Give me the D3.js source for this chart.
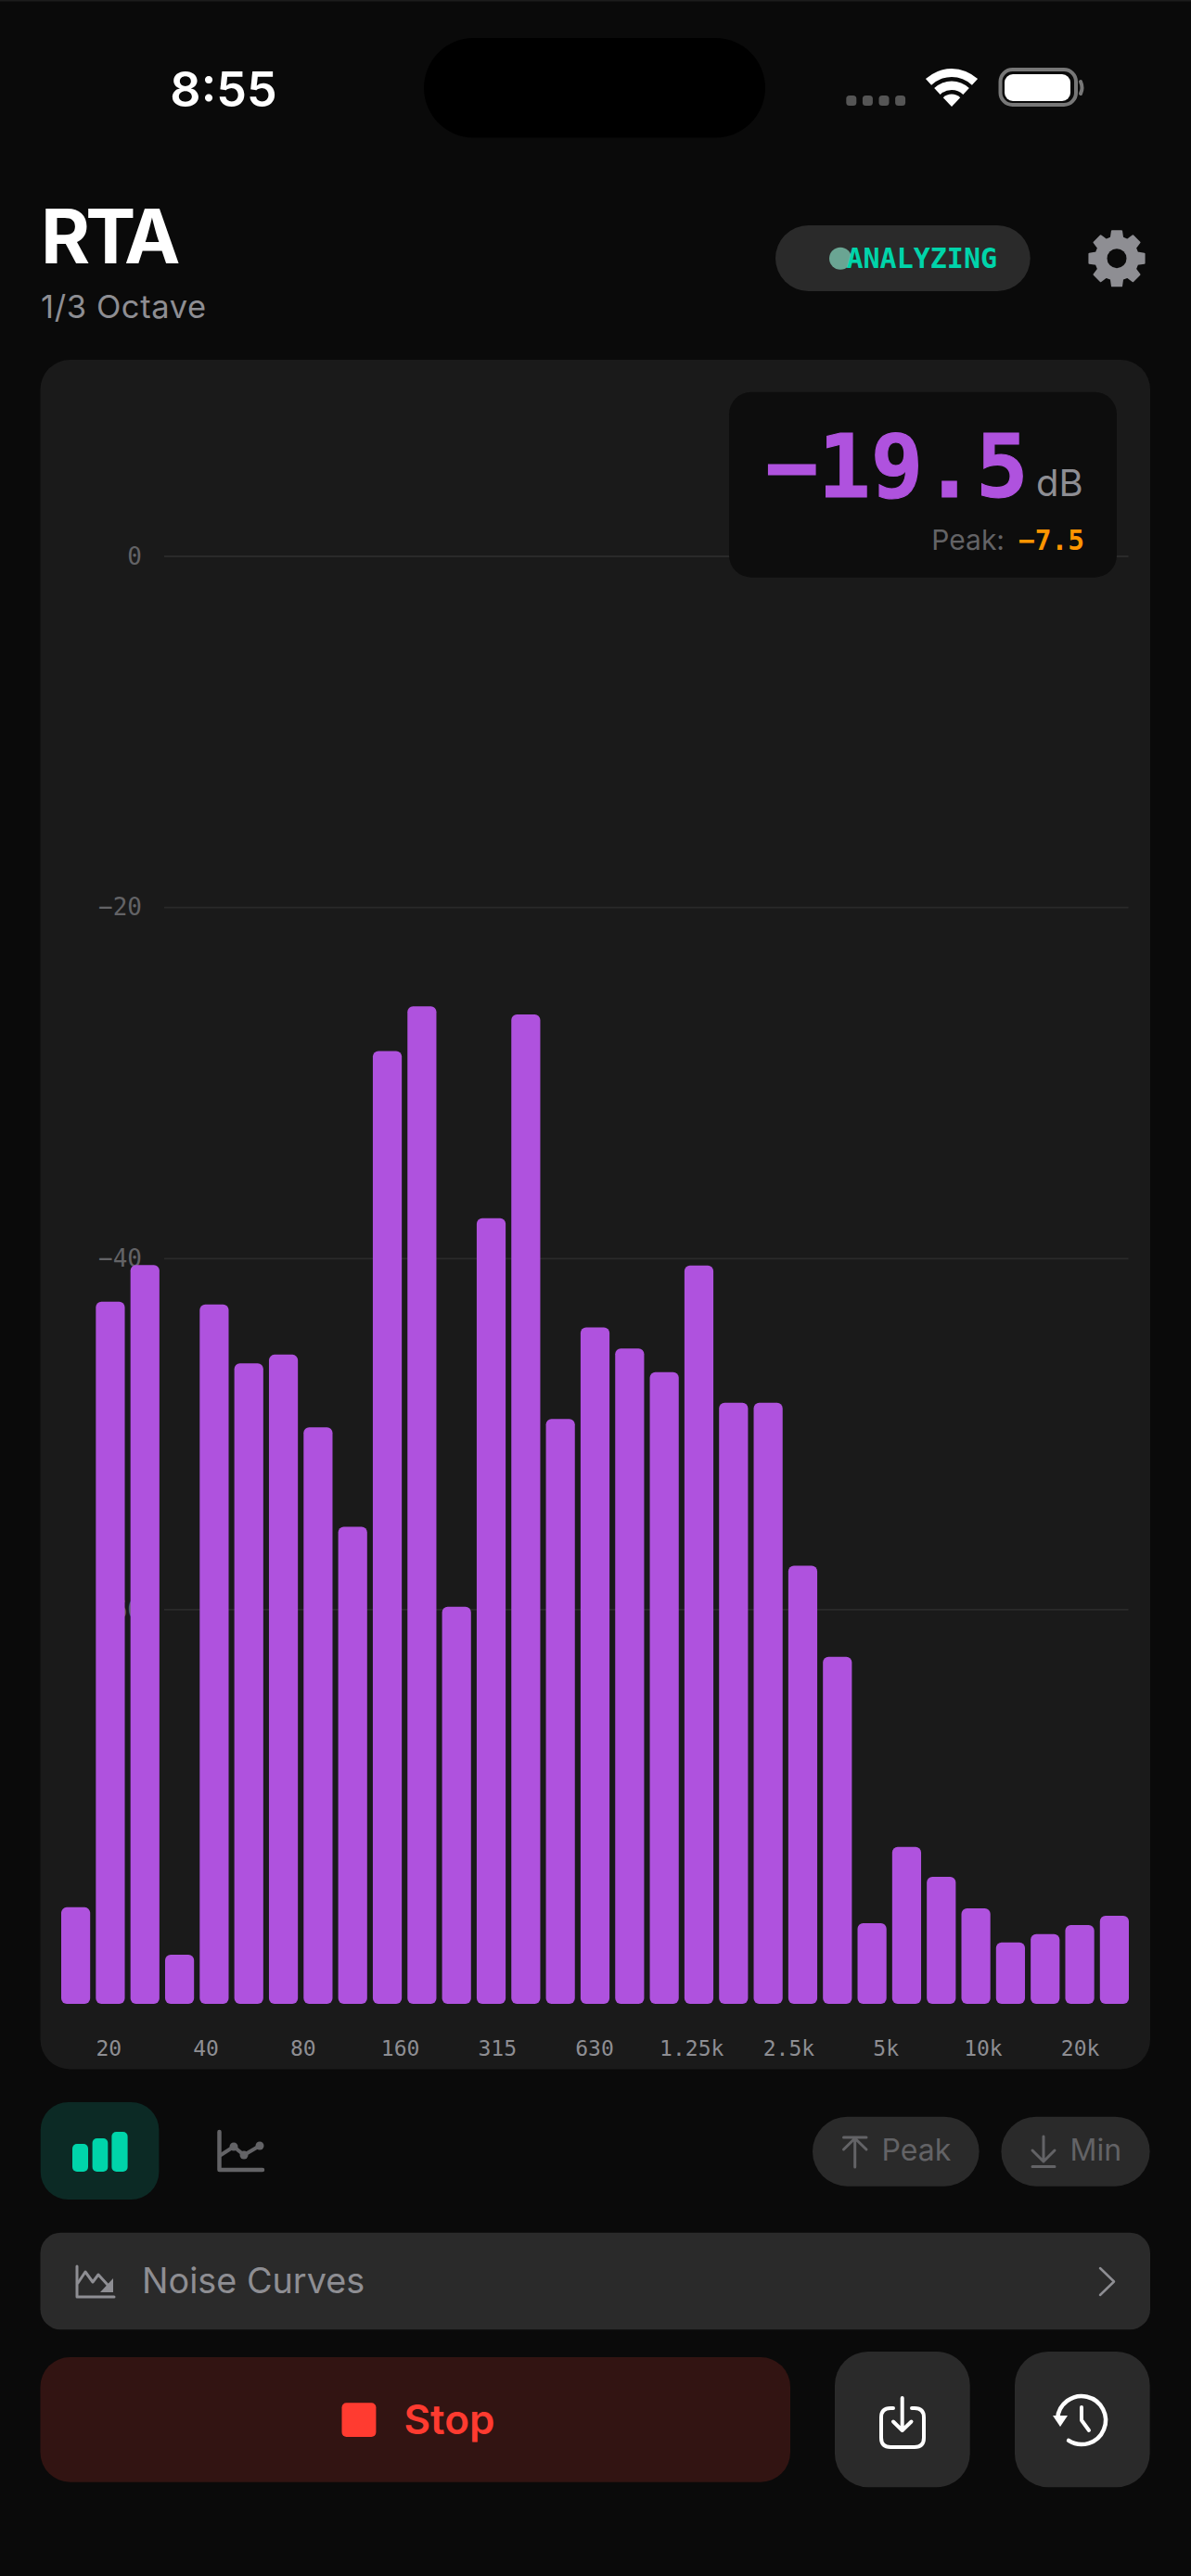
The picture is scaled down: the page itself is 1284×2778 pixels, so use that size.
<!DOCTYPE html>
<html>
<head>
<meta charset="utf-8">
<title>RTA</title>
<script src="https://d3js.org/d3.v7.min.js"></script>
<style>
  html, body { margin: 0; padding: 0; background: #0a0a0a; }
  svg { display: block; }
  text { font-family: Inter, "Noto Sans", sans-serif; }
  .mono, .mono text { font-family: "DejaVu Sans Mono", monospace; }
</style>
</head>
<body>
<svg id="screen" width="1284" height="2778"></svg>
<script>
// 1/3 octave bands and the level, in dB
var bandNames = ["20", "25", "31.5", "40", "50", "63", "80", "100", "125", "160", "200",
  "250", "315", "400", "500", "630", "800", "1k", "1.25k", "1.6k", "2k",
  "2.5k", "3.15k", "4k", "5k", "6.3k", "8k", "10k", "12.5k", "16k", "20k"];
var bandLevels = [-76.95, -42.45, -40.37, -79.65, -42.61, -45.97, -45.47, -49.61, -55.28, -28.18, -25.63,
  -59.83, -37.70, -26.09, -49.14, -43.92, -45.12, -46.47, -40.39, -48.21, -48.21,
  -57.49, -62.68, -77.85, -73.51, -75.21, -77.01, -78.95, -78.47, -77.96, -77.43];
var freqLabels = ["20", "40", "80", "160", "315", "630", "1.25k", "2.5k", "5k", "10k", "20k"];
var dbTicks = [0, -20, -40, -60];
var dbFloor = -82.45;

var GREY = "#8e8e93", DIM = "#636366", CHIP = "#2a2a2a", TEAL = "#00d4aa", PURPLE = "#af52de", RED = "#ff3b30";

var svg = d3.select("#screen");

function box(parent, x0, y0, x1, y1, r, fill) {
  return parent.append("rect").attr("x", x0).attr("y", y0)
    .attr("width", x1 - x0).attr("height", y1 - y0)
    .attr("rx", r).attr("ry", r).attr("fill", fill);
}

function label(parent, x, y, str, size, weight, fill, anchor) {
  return parent.append("text").attr("x", x).attr("y", y).text(str)
    .attr("font-size", size).attr("font-weight", weight).attr("fill", fill)
    .attr("text-anchor", anchor || "start");
}

function stroked(parent, d, color, width) {
  return parent.append("path").attr("d", d).attr("fill", "none")
    .attr("stroke", color).attr("stroke-width", width)
    .attr("stroke-linecap", "round").attr("stroke-linejoin", "round");
}

/* status bar */
box(svg, 0, 0, 1284, 1.5, 0, "#1c1c1c");
label(svg, 241, 115, "8:55", 52, 600, "#fff", "middle");
box(svg, 457, 41, 825, 148.5, 53.7, "#000");
[0, 1, 2, 3].forEach(function (i) {
  box(svg, 912.3 + i * 17.6, 103, 923.3 + i * 17.6, 114, 3.5, "#555");
});
var wifi = svg.append("g").attr("transform", "translate(1026,115)");
[[32, 41], [18, 27.5], [0, 13.5]].forEach(function (r) {
  wifi.append("path").attr("fill", "#fff").attr("d", d3.arc()
    .innerRadius(r[0]).outerRadius(r[1])
    .startAngle(-Math.PI * 0.24).endAngle(Math.PI * 0.24)());
});
box(svg, 1078.5, 75, 1160, 113, 13, "none").attr("stroke", "#777").attr("stroke-width", 4);
box(svg, 1083, 80, 1154, 109, 9, "#fff");
stroked(svg, "M1165,88 Q1168,95 1165,101", "#777", 4);

/* header */
label(svg, 44, 284, "RTA", 81, 700, "#fff").attr("letter-spacing", -5);
label(svg, 44, 343, "1/3 Octave", 34.5, 400, GREY).attr("letter-spacing", 0.6);
box(svg, 836, 243, 1110.7, 314, 35.5, CHIP);
svg.append("circle").attr("cx", 906).attr("cy", 278.7).attr("r", 12).attr("fill", "#6aa593");
label(svg, 912.5, 289, "ANALYZING", 30, 700, TEAL).attr("class", "mono");

// gear, teeth built around the centre
var gearPts = [];
d3.range(8).forEach(function (i) {
  var a = i * Math.PI / 4;
  [[-0.27, 23], [-0.17, 30], [0.17, 30], [0.27, 23]].forEach(function (p) {
    gearPts.push([1204 + p[1] * Math.sin(a + p[0]), 278.7 - p[1] * Math.cos(a + p[0])]);
  });
});
svg.append("path").attr("fill", GREY).attr("stroke", GREY).attr("stroke-width", 2)
  .attr("stroke-linejoin", "round").attr("d", d3.line()(gearPts) + "Z");
svg.append("circle").attr("cx", 1204).attr("cy", 278.7).attr("r", 10.5).attr("fill", "#0a0a0a");

/* chart card */
box(svg, 43.5, 388, 1240, 2231.5, 32, "#1a1a1a");

var x = d3.scaleBand().domain(bandNames).range([66, 1217]).paddingInner(0.164);
var y = d3.scaleLinear().domain([0, dbFloor]).range([600, 2161]);
var xTicks = d3.scaleBand().domain(freqLabels).range([65, 1217]);

svg.append("g").selectAll("line").data(dbTicks).join("line")
  .attr("x1", 177).attr("x2", 1216.5)
  .attr("y1", function (d) { return y(d); })
  .attr("y2", function (d) { return y(d); })
  .attr("stroke", CHIP).attr("stroke-width", 1.8);

var yAxis = svg.append("g").attr("class", "mono").attr("transform", "translate(153,0)")
  .call(d3.axisLeft(y).tickValues(dbTicks).tickSize(0).tickPadding(0));
yAxis.select(".domain").remove();
yAxis.selectAll("text").attr("font-size", 26).attr("fill", DIM).attr("x", 0);

svg.append("g").selectAll("rect").data(bandLevels).join("rect")
  .attr("x", function (d, i) { return x(bandNames[i]); })
  .attr("y", function (d) { return y(d); })
  .attr("width", x.bandwidth())
  .attr("height", function (d) { return y(dbFloor) - y(d); })
  .attr("rx", 6).attr("ry", 6)
  .attr("fill", PURPLE);

var xAxis = svg.append("g").attr("class", "mono").attr("transform", "translate(0,2198)")
  .call(d3.axisBottom(xTicks).tickSize(0).tickPadding(0));
xAxis.select(".domain").remove();
xAxis.selectAll("text").attr("font-size", 23).attr("fill", GREY).attr("y", 0).attr("dy", "0.83em");

/* level readout */
box(svg, 786, 422.7, 1204, 622.7, 24, "#0d0d0d");
label(svg, 1108.5, 536, "\u221219.5", 94, 700, PURPLE, "end").attr("class", "mono")
  .attr("stroke", PURPLE).attr("stroke-width", 1.2);
label(svg, 1117, 535, "dB", 40, 400, GREY);
label(svg, 1083, 593, "Peak:", 30, 400, DIM, "end");
label(svg, 1169, 593, "\u22127.5", 29.5, 700, "#ff9500", "end").attr("class", "mono");

/* view toggle */
box(svg, 43.7, 2267, 171.4, 2372, 30, "#0c2a25");
[[78, 95, 2312], [99.6, 116.3, 2306], [120.4, 137.6, 2299]].forEach(function (b) {
  box(svg, b[0], b[2], b[1], 2342, 5, TEAL);
});
stroked(svg, "M236.5,2299V2340H283", DIM, 4.5);
stroked(svg, "M238,2324L252,2315L263,2324L280,2314", DIM, 4);
[[252, 2315], [263, 2324], [280, 2314]].forEach(function (p) {
  svg.append("circle").attr("cx", p[0]).attr("cy", p[1]).attr("r", 4.5).attr("fill", DIM);
});

/* hold buttons */
box(svg, 876, 2282.7, 1055.6, 2357.7, 37.5, CHIP);
stroked(svg, "M909.5,2305H934M921.7,2337V2306M909.5,2318L921.7,2306L934,2318", DIM, 3);
label(svg, 950.5, 2330, "Peak", 32, 400, DIM);
box(svg, 1079.4, 2282.7, 1239.6, 2357.7, 37.5, CHIP);
stroked(svg, "M1113,2336.5H1137M1125,2304V2331M1113,2319L1125,2331L1137,2319", DIM, 3);
label(svg, 1153.5, 2330, "Min", 32, 400, DIM);

/* noise curves row */
box(svg, 43.5, 2407.7, 1240, 2512.3, 22, CHIP);
stroked(svg, "M83,2444V2477H123", GREY, 3);
stroked(svg, "M84,2462L92,2450L100,2461L106,2453L116,2464", GREY, 3);
svg.append("path").attr("fill", GREY).attr("d", "M122,2457V2472H108Z");
label(svg, 153, 2473, "Noise Curves", 37.8, 400, GREY);
stroked(svg, "M1186,2446L1201,2460.5L1186,2475", GREY, 2.5);

/* stop and the two square buttons */
box(svg, 43.5, 2542, 852, 2676.7, 32, "#321412");
box(svg, 368.5, 2591.3, 405.4, 2628, 5, RED);
label(svg, 435.5, 2625, "Stop", 44, 600, RED);

box(svg, 900, 2536, 1045.7, 2682.3, 36, CHIP);
stroked(svg, "M963,2597H960Q950,2597 950,2607V2629Q950,2639 960,2639H986Q996,2639 996,2629V2607Q996,2597 986,2597H983", "#fff", 4);
stroked(svg, "M972.7,2586V2620M963,2611.5L972.7,2621L982.5,2611.5", "#fff", 4);

box(svg, 1094, 2536, 1239.6, 2682.3, 36, CHIP);
var hist = svg.append("g").attr("transform", "translate(1166,2610)");
stroked(hist, d3.arc().innerRadius(26).outerRadius(26).startAngle(-Math.PI * 0.48).endAngle(Math.PI * 1.18)(), "#fff", 4.5);
hist.append("path").attr("fill", "#fff").attr("d", "M-31,-5H-15L-23,7Z");
stroked(hist, "M0,-14V0L8,11", "#fff", 4);
</script>
</body>
</html>
